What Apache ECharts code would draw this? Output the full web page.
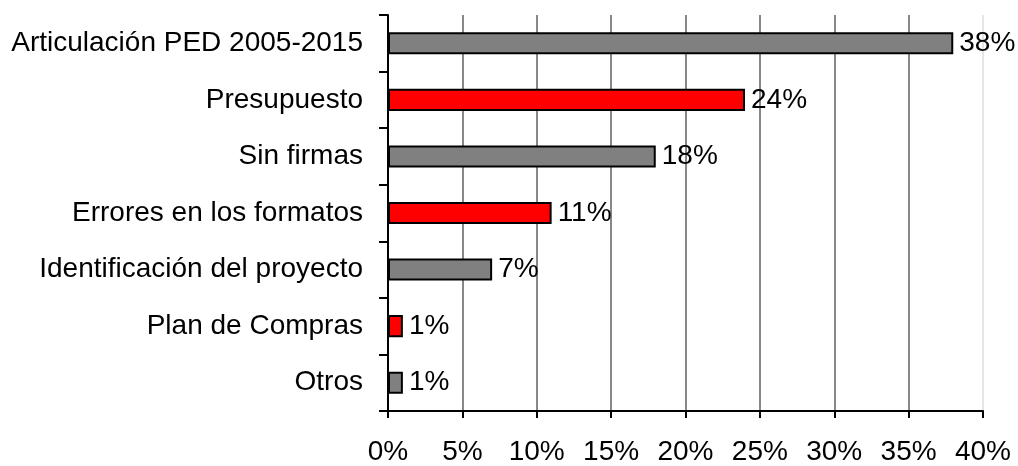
<!DOCTYPE html>
<html>
<head>
<meta charset="utf-8">
<script src="https://cdn.jsdelivr.net/npm/echarts@6/dist/echarts.min.js"></script>
<style>
  html, body { margin: 0; padding: 0; background: #fff; }
  #chart { width: 1018px; height: 466px; }
</style>
</head>
<body>
<div id="chart"></div>
<script>
var categories = ["Articulación PED 2005-2015", "Presupuesto", "Sin firmas", "Errores en los formatos",
                  "Identificación del proyecto", "Plan de Compras", "Otros"];
var values = [38, 24, 18, 11, 7, 1, 1];
var barColors = ["#808080", "#ff0000", "#808080", "#ff0000", "#808080", "#ff0000", "#808080"];
var xTicks = [0, 5, 10, 15, 20, 25, 30, 35, 40];

var fontFamily = "Liberation Sans, Arial, sans-serif";

// gridlines: all gray except the last one (40%) which is very light
var gridColors = xTicks.map(function(t, i) {
    return i === xTicks.length - 1 ? "#e6e6e6" : "#888888";
});

var chart = echarts.init(document.getElementById("chart"));
chart.setOption({
    animation: false,
    grid: { left: 388, right: 35, top: 15, bottom: 52, containLabel: false },
    xAxis: {
        type: "value",
        min: 0,
        max: 40,
        interval: 5,
        axisLine: { show: true, lineStyle: { color: "#000", width: 2 } },
        axisTick: { show: true, length: 7, lineStyle: { color: "#000", width: 2 } },
        axisLabel: {
            margin: 27,
            color: "#000",
            fontSize: 28,
            fontFamily: fontFamily,
            formatter: function(v) { return v + "%"; }
        },
        splitLine: { show: true, showMinLine: false, lineStyle: { color: gridColors.slice(1), width: 2 } }
    },
    yAxis: {
        type: "category",
        inverse: true,
        data: categories,
        axisLine: { show: true, lineStyle: { color: "#000", width: 2 } },
        axisTick: { show: true, length: 9, lineStyle: { color: "#000", width: 2 } },
        axisLabel: {
            margin: 25,
            color: "#000",
            fontSize: 28,
            fontFamily: fontFamily
        },
        splitLine: { show: false }
    },
    series: [{
        type: "bar",
        data: values.map(function(v, i) {
            return { value: v, itemStyle: { color: barColors[i] } };
        }),
        barCategoryGap: "61%",
        itemStyle: { borderColor: "#000", borderWidth: 2 },
        label: {
            show: true,
            position: "right",
            distance: 6,
            color: "#000",
            fontSize: 28,
            fontFamily: fontFamily,
            formatter: function(p) { return p.value + "%"; }
        }
    }]
});
</script>
</body>
</html>
